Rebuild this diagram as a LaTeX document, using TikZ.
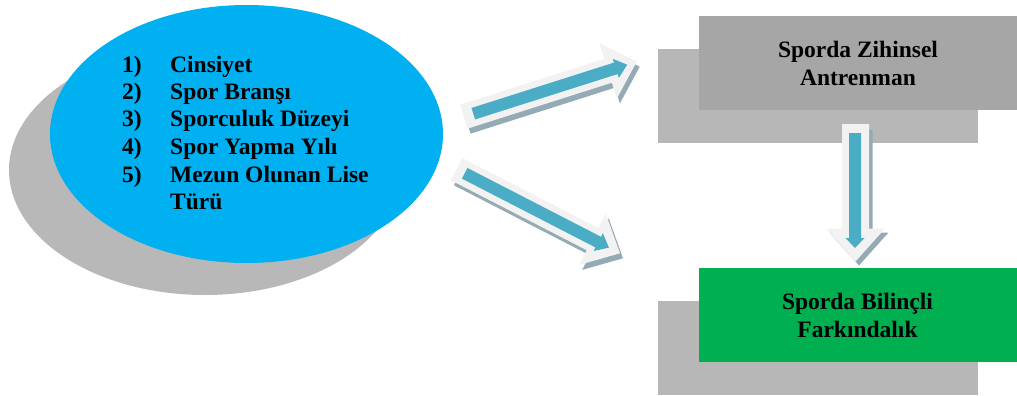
\documentclass[tikz,border=0pt]{standalone}
\usepackage{fontspec}
\setmainfont{Liberation Serif}
\usetikzlibrary{calc,shapes.geometric}
\definecolor{ellblue}{HTML}{00B0F0}
\definecolor{ellgray}{HTML}{B8B8B8}
\definecolor{boxdark}{HTML}{A6A6A6}
\definecolor{boxlight}{HTML}{B7B7B7}
\definecolor{boxgreen}{HTML}{00B050}
\definecolor{arrowout}{HTML}{F2F2F2}
\definecolor{arrowin}{HTML}{4BACC6}
\definecolor{arrowshadow}{HTML}{94AAB4}
% #1 tail, #2 tip, #3 shaft half width, #4 head half width, #5 head length, #6 fill colour
\newcommand\fatarrow[6]{%
  \coordinate (fab) at ($(#2)!#5!(#1)$);
  \fill[#6] ($(#1)!#3!90:(#2)$) -- ($(fab)!#3!90:(#2)$) -- ($(fab)!#4!90:(#2)$) -- (#2)
    -- ($(fab)!#4!-90:(#2)$) -- ($(fab)!#3!-90:(#2)$) -- ($(#1)!#3!-90:(#2)$) -- cycle;}
\begin{document}
\begin{tikzpicture}[x=1pt,y=-1pt,
  txt/.style={font=\fontsize{23.5}{28}\selectfont\bfseries, text=black},
  frontbox/.style={txt, minimum width=318pt, minimum height=94pt, inner sep=0pt, align=center},
  backbox/.style={fill=boxlight, minimum width=320pt, minimum height=94pt, inner sep=0pt}]
\useasboundingbox (0,0) rectangle (1017,396);
% ellipses
\node[ellipse, fill=ellgray, minimum width=392pt, minimum height=250pt, inner sep=0pt] (ellshadow) at (205,170) {};
\node[ellipse, fill=ellblue, minimum width=393pt, minimum height=258pt, inner sep=0pt] (factors) at (246.5,134) {};
\node[font=\fontsize{23.5}{27.5}\selectfont\bfseries, anchor=base west, inner sep=0pt] (list) at (122,72)
  {\begin{tabular}[t]{@{}l@{}}
  \makebox[48pt][l]{1)}Cinsiyet\\
  \makebox[48pt][l]{2)}Spor Branşı\\
  \makebox[48pt][l]{3)}Sporculuk Düzeyi\\
  \makebox[48pt][l]{4)}Spor Yapma Yılı\\
  \makebox[48pt][l]{5)}Mezun Olunan Lise\\
  \makebox[48pt][l]{}Türü
  \end{tabular}};
% boxes
\node[backbox] (back1) at (818,96) {};
\node[frontbox, fill=boxdark] (mental) at (858,63) {Sporda Zihinsel\\Antrenman};
\node[backbox] (back2) at (817.5,348) {};
\node[frontbox, fill=boxgreen] (aware) at (857.5,315) {Sporda Bilinçli\\Farkındalık};
% upper diagonal arrow
\coordinate (u1) at (463.8,116.7); \coordinate (u2) at (636.7,61.7);
\coordinate (u1s) at (466.8,121.7); \coordinate (u2s) at (639.7,66.7);
\coordinate (u1i) at (473.3,113.7); \coordinate (u2i) at (627.2,64.7);
\fatarrow{u1s}{u2s}{12.5pt}{29pt}{30pt}{arrowshadow}
\fatarrow{u1}{u2}{12.5pt}{29pt}{30pt}{arrowout}
\fatarrow{u1i}{u2i}{6pt}{10pt}{12pt}{arrowin}
% lower diagonal arrow
\coordinate (l1) at (456.7,169.2); \coordinate (l2) at (620,253.3);
\coordinate (l1s) at (459.7,174.2); \coordinate (l2s) at (623,258.3);
\coordinate (l1i) at (464.7,173.3); \coordinate (l2i) at (608.9,247.6);
\fatarrow{l1s}{l2s}{12.5pt}{29pt}{31pt}{arrowshadow}
\fatarrow{l1}{l2}{12.5pt}{29pt}{31pt}{arrowout}
\fatarrow{l1i}{l2i}{6pt}{10pt}{12pt}{arrowin}
% down arrow
\coordinate (d1) at (855.5,124); \coordinate (d2) at (855.5,261.5);
\coordinate (d1s) at (859,130); \coordinate (d2s) at (859,265.5);
\coordinate (d1i) at (855,133); \coordinate (d2i) at (855,248);
\fatarrow{d1s}{d2s}{13.5pt}{29.5pt}{33pt}{arrowshadow}
\fatarrow{d1}{d2}{13.5pt}{29.5pt}{33pt}{arrowout}
\fatarrow{d1i}{d2i}{6pt}{9.5pt}{10pt}{arrowin}
\end{tikzpicture}
\end{document}
